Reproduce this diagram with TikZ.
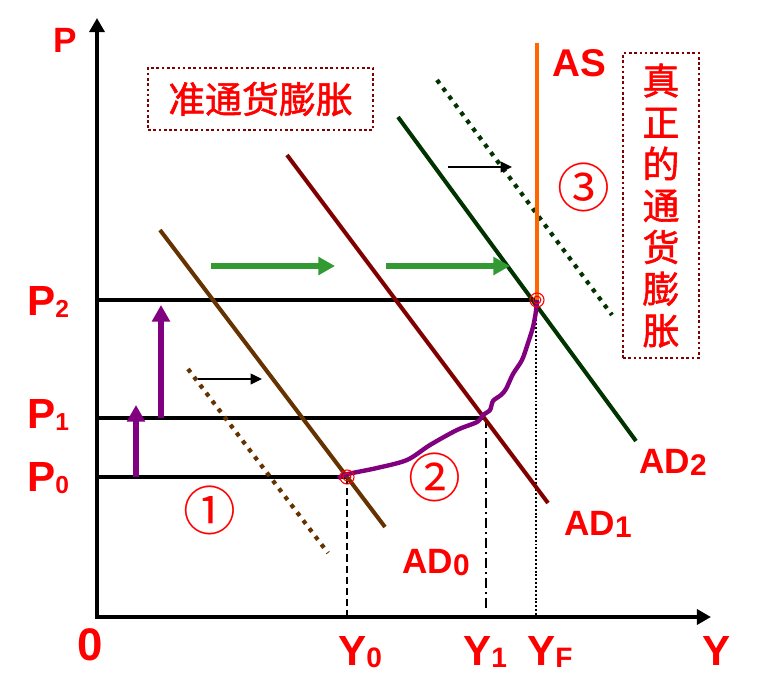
\documentclass[tikz,border=0pt]{standalone}
\usepackage{fontspec}
\setmainfont{Liberation Sans}
\newfontfamily\cjk{Noto Sans CJK SC}
\newfontfamily\cjkb{Noto Sans CJK SC}[FakeBold=1.5]
\usetikzlibrary{arrows.meta}
\definecolor{adbrown}{HTML}{663300}
\definecolor{admaroon}{HTML}{800000}
\definecolor{adgreen}{HTML}{003300}
\definecolor{asorange}{HTML}{FF6600}
\definecolor{pathpurple}{HTML}{800080}
\definecolor{shiftgreen}{HTML}{339933}
\newcommand{\fsz}[1]{\fontsize{#1}{#1}\selectfont}
\newcommand{\dn}[2]{\raisebox{-1.7pt}{\fsz{#1}#2}}

\begin{document}
\begin{tikzpicture}[x=0.02cm, y=-0.02cm,
    lbl/.style={text=red, inner sep=0pt, anchor=base west},
    cnbox/.style={draw=admaroon, line width=1.5pt, dash pattern=on 1.5pt off 1.5pt,
      text=red, inner sep=0pt},
    level/.style={line width=2.4pt},
    adline/.style={line width=2.3pt},
    dotline/.style={line width=2.4pt, dash pattern=on 2.4pt off 3.3pt},
    bigarrow/.style={line width=3.4pt, -{Triangle[length=9.5pt,width=10pt]}},
    smallarrow/.style={line width=1.2pt, -{Triangle[length=6.5pt,width=6pt]}},
    ring/.style={red, line width=0.6pt}]
  \useasboundingbox (0,0) rectangle (762,683);

  % points
  \coordinate (O) at (97,617);
  \coordinate (E0) at (347,477);
  \coordinate (E1) at (485,418);
  \coordinate (EF) at (537,300);

  % axes
  \draw[line width=2.8pt, {Triangle[length=8pt,width=8.5pt]}-{Triangle[length=8pt,width=8.5pt]}]
    (97,18) -- (O) -- (711,617);

  % price levels
  \draw[level] (O |- E0) -- (E0);
  \draw[level] (O |- E1) -- (E1);
  \draw[level] (O |- EF) -- (EF);

  % drop lines
  \draw[line width=1.1pt, dash pattern=on 4pt off 2.3pt] (E0) -- (E0 |- O);
  \draw[line width=1.1pt, dash pattern=on 5.7pt off 2.3pt on 1.1pt off 2.3pt] (486,418) -- (486,610);
  \draw[line width=1.1pt, dash pattern=on 1.1pt off 1.1pt] (536,300) -- (536,615);

  % AD curves
  \draw[adline, adbrown] (160,230) -- (385,527);
  \draw[dotline, adbrown] (188,369) -- (328,553);
  \draw[adline, admaroon] (287,155) -- (548,503);
  \draw[adline, adgreen] (398,117) -- (636,441);
  \draw[dotline, adgreen] (437,80) -- (612,315);

  % AS
  \draw[line width=2.3pt, asorange] (537,43) -- (EF);

  % path of the economy
  \draw[line width=2.5pt, pathpurple, line join=round] plot[smooth, tension=0.5] coordinates {
    (338,478) (348,474) (377,468) (407,460) (430,445) (457,430) (477,422) (483,415)
    (490,410) (493,401) (501,395) (506,389) (513,374) (522,360) (528,343) (533,327)
    (536,311) (537,300)};
  \draw[ring] (E0) circle (2.2pt) (E0) circle (4pt);
  \draw[ring] (EF) circle (2.2pt) (EF) circle (4pt);

  % shifts
  \draw[bigarrow, pathpurple] (136,477) -- (136,405);
  \draw[bigarrow, pathpurple] (161,418) -- (161,305);
  \draw[bigarrow, shiftgreen] (211,266) -- (335,266);
  \draw[bigarrow, shiftgreen] (386,266) -- (510,266);
  \draw[smallarrow] (198,379) -- (262,379);
  \draw[smallarrow] (448,167) -- (512,167);

  % axis labels
  \node[lbl, font=\bfseries\fsz{20}] (plab) at (53,52) {P};
  \node[lbl, font=\bfseries\fsz{26}] (olab) at (77,660) {0};
  \node[lbl, font=\bfseries\fsz{24}] (p2lab) at (27,315) {P\dn{14}{2}};
  \node[lbl, font=\bfseries\fsz{24}] (p1lab) at (27,428) {P\dn{14}{1}};
  \node[lbl, font=\bfseries\fsz{24}] (p0lab) at (27,491) {P\dn{14}{0}};
  \node[lbl, font=\bfseries\fsz{24}] (y0lab) at (338,665) {Y\dn{16}{0}};
  \node[lbl, font=\bfseries\fsz{24}] (y1lab) at (463,665) {Y\dn{16}{1}};
  \node[lbl, font=\bfseries\fsz{24}] (yflab) at (527,665) {Y\dn{16}{F}};
  \node[lbl, font=\bfseries\fsz{24}] (ylab) at (702,665) {Y};

  % curve labels
  \node[lbl, font=\bfseries\fsz{20}] (ad0lab) at (402,573) {AD\dn{17}{0}};
  \node[lbl, font=\bfseries\fsz{20}] (ad1lab) at (564,535) {AD\dn{17}{1}};
  \node[lbl, font=\bfseries\fsz{20}] (ad2lab) at (639,473) {AD\dn{17}{2}};
  \node[lbl, font=\bfseries\fsz{22}] (aslab) at (552,76) {AS};

  % stages
  \node[text=red, font=\cjk\fsz{30}] (st1) at (210,510) {①};
  \node[text=red, font=\cjk\fsz{30}] (st2) at (435,477) {②};
  \node[text=red, font=\cjk\fsz{30}] (st3) at (584,187) {③};

  % boxes
  \node[cnbox, minimum width=128pt, minimum height=35.3pt, font=\cjkb\fsz{21}]
    (quasi) at (260.5,99) {准通货膨胀};
  \node[cnbox, minimum width=43.2pt, minimum height=173.5pt, align=center,
    font=\cjkb\fontsize{21}{23.7}\selectfont]
    (truei) at (661,205.5) {真\\正\\的\\通\\货\\膨\\胀};
\end{tikzpicture}
\end{document}
